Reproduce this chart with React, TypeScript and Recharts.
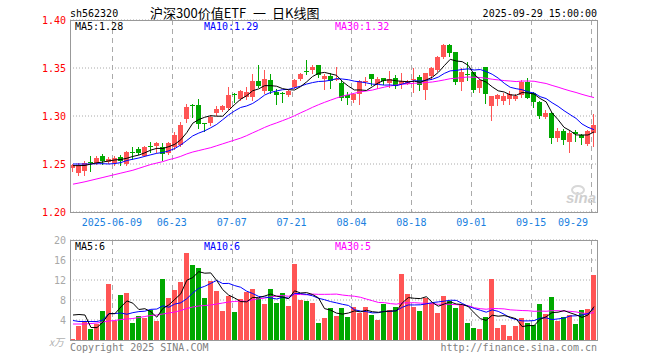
import React from "react";
import {
  ComposedChart,
  Bar,
  Line,
  XAxis,
  YAxis,
  CartesianGrid,
} from "recharts";

const dates = [
  "2025-05-28", "2025-05-29", "2025-05-30",
  "2025-06-03", "2025-06-04", "2025-06-05", "2025-06-06", "2025-06-09", "2025-06-10", "2025-06-11",
  "2025-06-12", "2025-06-13", "2025-06-16", "2025-06-17", "2025-06-18", "2025-06-19", "2025-06-20",
  "2025-06-23", "2025-06-24", "2025-06-25", "2025-06-26", "2025-06-27", "2025-06-30",
  "2025-07-01", "2025-07-02", "2025-07-03", "2025-07-04", "2025-07-07", "2025-07-08", "2025-07-09",
  "2025-07-10", "2025-07-11", "2025-07-14", "2025-07-15", "2025-07-16", "2025-07-17", "2025-07-18",
  "2025-07-21", "2025-07-22", "2025-07-23", "2025-07-24", "2025-07-25", "2025-07-28", "2025-07-29",
  "2025-07-30", "2025-07-31",
  "2025-08-01", "2025-08-04", "2025-08-05", "2025-08-06", "2025-08-07", "2025-08-08", "2025-08-11",
  "2025-08-12", "2025-08-13", "2025-08-14", "2025-08-15", "2025-08-18", "2025-08-19", "2025-08-20",
  "2025-08-21", "2025-08-22", "2025-08-25", "2025-08-26", "2025-08-27", "2025-08-28", "2025-08-29",
  "2025-09-01", "2025-09-02", "2025-09-03", "2025-09-04", "2025-09-05", "2025-09-08", "2025-09-09",
  "2025-09-10", "2025-09-11", "2025-09-12", "2025-09-15", "2025-09-16", "2025-09-17", "2025-09-18",
  "2025-09-19", "2025-09-22", "2025-09-23", "2025-09-24", "2025-09-25", "2025-09-26", "2025-09-29",
];

const opens = [
  1.2451, 1.2403, 1.243, 1.252, 1.251, 1.258, 1.252, 1.251, 1.2576, 1.251,
  1.263, 1.266, 1.259, 1.2685, 1.269, 1.268, 1.262, 1.267, 1.27, 1.297,
  1.311, 1.311, 1.293, 1.2925, 1.303, 1.306, 1.308, 1.323, 1.3185, 1.32,
  1.319, 1.3365, 1.327, 1.3375, 1.325, 1.3238, 1.322, 1.33, 1.339, 1.347,
  1.348, 1.353, 1.3385, 1.342, 1.338, 1.3347, 1.322, 1.316, 1.3226, 1.3355,
  1.3438, 1.334, 1.3393, 1.334, 1.3393, 1.333, 1.3335, 1.338, 1.3403, 1.327,
  1.341, 1.348, 1.3618, 1.374, 1.367, 1.3357, 1.3435, 1.3462, 1.3288, 1.3514,
  1.3107, 1.3177, 1.316, 1.318, 1.3174, 1.322, 1.3358, 1.3243, 1.315, 1.2993,
  1.3035, 1.2778, 1.2847, 1.2733, 1.2833, 1.2802, 1.2708, 1.283,
];

const highs = [
  1.25, 1.251, 1.253, 1.2583, 1.258, 1.2604, 1.2573, 1.258, 1.259, 1.264,
  1.268, 1.268, 1.269, 1.2733, 1.273, 1.2715, 1.273, 1.283, 1.294, 1.312,
  1.312, 1.318, 1.293, 1.301, 1.31, 1.311, 1.33, 1.324, 1.327, 1.33,
  1.344, 1.353, 1.348, 1.344, 1.328, 1.3253, 1.327, 1.339, 1.345, 1.358,
  1.3535, 1.3535, 1.344, 1.3445, 1.3515, 1.3375, 1.325, 1.324, 1.3375, 1.341,
  1.344, 1.341, 1.34, 1.347, 1.343, 1.345, 1.337, 1.3497, 1.3427, 1.345,
  1.351, 1.3625, 1.3745, 1.3745, 1.367, 1.3497, 1.3566, 1.3462, 1.339, 1.3514,
  1.3212, 1.323, 1.3243, 1.326, 1.323, 1.338, 1.3393, 1.3255, 1.316, 1.306,
  1.3045, 1.2872, 1.286, 1.2847, 1.2854, 1.281, 1.2858, 1.302,
];

const lows = [
  1.243, 1.239, 1.239, 1.243, 1.25, 1.25, 1.2507, 1.249, 1.249, 1.249,
  1.255, 1.26, 1.258, 1.263, 1.262, 1.2545, 1.26, 1.266, 1.269, 1.294,
  1.299, 1.288, 1.284, 1.291, 1.301, 1.305, 1.307, 1.315, 1.317, 1.318,
  1.317, 1.33, 1.324, 1.324, 1.313, 1.315, 1.321, 1.329, 1.337, 1.344,
  1.345, 1.341, 1.328, 1.3295, 1.337, 1.3167, 1.312, 1.315, 1.313, 1.3325,
  1.332, 1.329, 1.333, 1.33, 1.329, 1.329, 1.333, 1.325, 1.327, 1.3177,
  1.339, 1.347, 1.36, 1.363, 1.333, 1.327, 1.3375, 1.325, 1.325, 1.3132,
  1.296, 1.3115, 1.3125, 1.3125, 1.3165, 1.32, 1.3185, 1.3097, 1.2976, 1.2976,
  1.2722, 1.2743, 1.2708, 1.263, 1.2743, 1.2708, 1.27, 1.269,
];

const closes = [
  1.2486, 1.249, 1.251, 1.2512, 1.2566, 1.2524, 1.255, 1.256, 1.2535, 1.263,
  1.262, 1.262, 1.268, 1.2675, 1.272, 1.261, 1.272, 1.28, 1.291, 1.3095,
  1.31, 1.291, 1.292, 1.299, 1.307, 1.31, 1.322, 1.322, 1.3265, 1.325,
  1.336, 1.3316, 1.339, 1.3265, 1.322, 1.3234, 1.326, 1.3375, 1.344, 1.3465,
  1.3515, 1.343, 1.342, 1.3365, 1.339, 1.319, 1.3185, 1.3225, 1.3365, 1.3365,
  1.3385, 1.339, 1.3358, 1.3385, 1.3313, 1.336, 1.3365, 1.339, 1.3323, 1.3444,
  1.3497, 1.3618, 1.374, 1.3653, 1.3357, 1.3462, 1.3425, 1.327, 1.3375, 1.3236,
  1.3212, 1.3219, 1.3208, 1.323, 1.3208, 1.3358, 1.3195, 1.315, 1.3, 1.3035,
  1.2778, 1.2847, 1.275, 1.2826, 1.2813, 1.2774, 1.2847, 1.291,
];

// 成交量 (万)
const volumes = [
  0.3, 2.8, 3.7, 2.3, 3.3, 5.8, 11.2, 3.7, 9.0, 9.4,
  3.5, 4.9, 4.5, 6.0, 3.9, 12.2, 8.5, 10.0, 11.6, 17.4,
  15.0, 14.3, 8.5, 11.9, 9.8, 5.9, 8.8, 5.6, 8.3, 9.6,
  10.3, 8.5, 7.3, 10.2, 7.5, 9.4, 6.9, 15.2, 8.0, 7.9,
  7.5, 3.5, 4.5, 6.5, 4.9, 6.5, 4.6, 6.6, 5.5, 6.6,
  5.0, 4.0, 7.3, 6.1, 6.6, 13.2, 9.2, 6.6, 5.8, 8.5,
  7.5, 5.4, 8.8, 7.9, 6.4, 7.0, 3.4, 2.4, 2.2, 4.6,
  12.2, 2.4, 3.0, 0.8, 2.8, 4.4, 3.4, 3.0, 7.2, 5.2,
  8.6, 3.8, 4.6, 5.0, 3.2, 6.0, 6.2, 13.0,
];

// MA values at the start of the window (history before 05-28 is not shown)
const ma5Head = [1.2483, 1.2483, 1.2485, 1.25];
const ma10Head = [1.25, 1.25, 1.25, 1.25, 1.2503, 1.2503, 1.25, 1.2505, 1.2515];
const ma30Head = [
  1.229, 1.2302, 1.2315, 1.233, 1.2345, 1.236, 1.2375, 1.239, 1.2405, 1.242,
  1.2435, 1.2455, 1.2475, 1.2495, 1.251, 1.2525, 1.2545, 1.256, 1.258, 1.2605,
  1.2625, 1.264, 1.2655, 1.267, 1.269, 1.271, 1.273, 1.275, 1.277,
];
const volMa5Head = [5.0, 5.1, 5.0, 2.5];
const volMa10Head = [3.9, 3.7, 3.7, 3.7, 3.7, 4.0, 5.3, 5.3, 5.4];
const volMa30Head = [
  3.2, 3.2, 3.2, 3.3, 3.4, 3.6, 3.8, 3.9, 4.1, 4.2,
  4.3, 4.5, 4.7, 4.9, 5.0, 5.2, 5.4, 5.6, 5.9, 6.3,
  6.6, 6.8, 6.9, 7.0, 7.2, 7.4, 7.6, 7.7, 7.8,
];

const tickIdx = [7, 17, 27, 37, 47, 57, 67, 77, 87];
const priceTicks = [1.2, 1.25, 1.3, 1.35, 1.4];
const volTicks = [0, 4, 8, 12, 16, 20];

const RED = "#ff5555";
const GREEN = "#00a800";
const MONO = '"DejaVu Sans Mono", monospace';
const CJK = '"Noto Sans CJK SC", sans-serif';
const GRID = "#aaaaaa";

function movingAvg(src: number[], n: number, head: number[], i: number) {
  if (i < n - 1) return head[i];
  let s = 0;
  for (let k = i - n + 1; k <= i; k++) s += src[k];
  return s / n;
}

const rows = dates.map((d, i) => ({
  date: d,
  open: opens[i],
  high: highs[i],
  low: lows[i],
  close: closes[i],
  vol: volumes[i],
  up: closes[i] >= opens[i],
  ma5: movingAvg(closes, 5, ma5Head, i),
  ma10: movingAvg(closes, 10, ma10Head, i),
  ma30: movingAvg(closes, 30, ma30Head, i),
  vma5: movingAvg(volumes, 5, volMa5Head, i),
  vma10: movingAvg(volumes, 10, volMa10Head, i),
  vma30: movingAvg(volumes, 30, volMa30Head, i),
}));

const last = rows[rows.length - 1];
const tickDates = tickIdx.map((i) => dates[i]);

const PLOT_LEFT = 70;
const PLOT_W = 527;
const band = PLOT_W / dates.length;

const vGen = (props: any) => {
  const off = props && props.offset;
  const left = off && typeof off.left === "number" ? off.left : PLOT_LEFT;
  const w = off && typeof off.width === "number" ? off.width : PLOT_W;
  return tickIdx.map((i) => Math.round(left + (w * i) / dates.length) + 0.5);
};

const Candle = (props: any) => {
  const { x, y, width, height, payload } = props;
  if (!payload) return null;
  const { open, close, high, low, up } = payload;
  const color = up ? RED : GREEN;
  const top = Math.min(y, y + height);
  const h = Math.abs(height);
  const k = high - low > 0 ? h / (high - low) : 0;
  const yo = top + (high - open) * k;
  const yc = top + (high - close) * k;
  const bTop = Math.round(Math.min(yo, yc));
  const bH = Math.max(1, Math.round(Math.abs(yo - yc)));
  const rx = Math.round(x + width / 2 - 2.5);
  return (
    <g>
      <line x1={rx + 2.5} x2={rx + 2.5} y1={Math.round(top)} y2={Math.round(top + h) + 1} stroke={color} strokeWidth={1} />
      <rect x={rx} y={bTop} width={5} height={bH} fill={color} />
    </g>
  );
};

const VolBar = (props: any) => {
  const { x, y, width, height, payload } = props;
  if (!payload) return null;
  const rx = Math.round(x + width / 2 - 2.5);
  const top = Math.round(y);
  const bottom = Math.round(y + height);
  return <rect x={rx} y={top} width={5} height={Math.max(0, bottom - top)} fill={payload.up ? RED : GREEN} />;
};

const DateTick = (props: any) => {
  const { x, y, payload } = props;
  const i = dates.indexOf(payload.value);
  const label = i === tickIdx[0] ? payload.value : payload.value.slice(5);
  const isLast = i === dates.length - 1;
  return (
    <text
      x={isLast ? x - 6 : x - band / 2}
      y={y + 12}
      textAnchor={isLast ? "end" : "middle"}
      fill="#1a7fe0"
      fontSize={10}
      fontFamily={MONO}
    >
      {label}
    </text>
  );
};

const VolTick = (props: any) => {
  const { x, y, payload } = props;
  if (payload.value === 0) {
    return (
      <text x={x - 2} y={y + 6} textAnchor="end" fill="#b0b0b0" fontSize={10} fontStyle="italic" fontFamily={CJK}>
        x万
      </text>
    );
  }
  return (
    <text x={x} y={y} dy="0.355em" textAnchor="end" fill="#a8a8a8" fontSize={10} fontFamily={MONO}>
      {payload.value}
    </text>
  );
};

export default function App() {
  return (
    <div style={{ position: "absolute", left: 0, top: 0, width: 660, height: 360, background: "#fff" }}>
      <div style={{ position: "absolute", left: 0, top: 0 }}>
        <ComposedChart width={660} height={232} data={rows} margin={{ top: 20, right: 63, bottom: 0, left: 0 }}>
          <CartesianGrid vertical={false} stroke={GRID} strokeDasharray="1 2" />
          <CartesianGrid horizontal={false} stroke={GRID} strokeDasharray="5 4" verticalCoordinatesGenerator={vGen} />
          <XAxis
            dataKey="date"
            ticks={tickDates}
            interval={0}
            axisLine={false}
            tickLine={false}
            tickSize={0}
            height={20}
            tick={<DateTick />}
          />
          <YAxis
            domain={[1.2, 1.4]}
            ticks={priceTicks}
            interval={0}
            width={70}
            axisLine={false}
            tickLine={false}
            tickSize={0}
            tickMargin={4}
            tickFormatter={(v: number) => v.toFixed(2)}
            tick={{ fill: "#ff0000", fontSize: 10, fontFamily: MONO }}
          />
          <Bar dataKey={(d: any) => [d.low, d.high]} barSize={5} shape={<Candle />} isAnimationActive={false} />
          <Line dataKey="ma30" stroke="#ff00ff" strokeWidth={1} dot={false} isAnimationActive={false} />
          <Line dataKey="ma10" stroke="#0000ff" strokeWidth={1} dot={false} isAnimationActive={false} />
          <Line dataKey="ma5" stroke="#000000" strokeWidth={1} dot={false} isAnimationActive={false} />
        </ComposedChart>
      </div>
      <div style={{ position: "absolute", left: 0, top: 230 }}>
        <ComposedChart width={660} height={122} data={rows} margin={{ top: 10, right: 63, bottom: 12, left: 0 }}>
          <CartesianGrid vertical={false} stroke={GRID} strokeDasharray="1 2" />
          <CartesianGrid horizontal={false} stroke={GRID} strokeDasharray="5 4" verticalCoordinatesGenerator={vGen} />
          <XAxis dataKey="date" hide />
          <YAxis
            domain={[0, 20]}
            ticks={volTicks}
            interval={0}
            width={70}
            axisLine={false}
            tickLine={false}
            tickSize={0}
            tickMargin={4}
            tick={<VolTick />}
          />
          <Bar dataKey="vol" barSize={5} shape={<VolBar />} isAnimationActive={false} />
          <Line dataKey="vma30" stroke="#ff00ff" strokeWidth={1} dot={false} isAnimationActive={false} />
          <Line dataKey="vma10" stroke="#0000ff" strokeWidth={1} dot={false} isAnimationActive={false} />
          <Line dataKey="vma5" stroke="#000000" strokeWidth={1} dot={false} isAnimationActive={false} />
        </ComposedChart>
      </div>
      <div style={{ position: "absolute", left: 70, top: 20, width: 528, height: 193, border: "1px solid #999", boxSizing: "border-box", pointerEvents: "none" }} />
      <div style={{ position: "absolute", left: 70, top: 240, width: 528, height: 101, border: "1px solid #999", boxSizing: "border-box", pointerEvents: "none" }} />
      <svg width={660} height={360} style={{ position: "absolute", left: 0, top: 0, pointerEvents: "none" }}>
        <text x={70} y={17} fontSize={10} fontFamily={MONO} fill="#000">sh562320</text>
        <text x={150} y={18} fontSize={13} fontFamily={CJK} fill="#000">
          <tspan x={150}>沪深300价值ETF</tspan>
          <tspan x={253}>一</tspan>
          <tspan x={272}>日K线图</tspan>
        </text>
        <text x={597} y={17} fontSize={10} textAnchor="end" fontFamily={MONO} fill="#000">2025-09-29 15:00:00</text>
        <text x={75} y={30} fontSize={10} fontFamily={MONO} fill="#000">{`MA5:${last.ma5.toFixed(2)}`}</text>
        <text x={204} y={30} fontSize={10} fontFamily={MONO} fill="#0000ff">{`MA10:${last.ma10.toFixed(2)}`}</text>
        <text x={335} y={30} fontSize={10} fontFamily={MONO} fill="#ff00ff">{`MA30:${last.ma30.toFixed(2)}`}</text>
        <text x={75} y={250} fontSize={10} fontFamily={MONO} fill="#000">{`MA5:${Math.floor(last.vma5)}`}</text>
        <text x={204} y={250} fontSize={10} fontFamily={MONO} fill="#0000ff">{`MA10:${Math.floor(last.vma10)}`}</text>
        <text x={335} y={250} fontSize={10} fontFamily={MONO} fill="#ff00ff">{`MA30:${Math.floor(last.vma30)}`}</text>
        <text x={566} y={203} fontSize={15} fontWeight="bold" fontStyle="italic" fontFamily="sans-serif" fill="#cfcfcf">sina</text>
        <ellipse cx={578} cy={190} rx={6} ry={4} fill="none" stroke="#d8d8d8" strokeWidth={2} />
        <text x={70} y={351} fontSize={10} fontFamily={MONO} fill="#808080">Copyright 2025 SINA.COM</text>
        <text x={597} y={351} fontSize={10} textAnchor="end" fontFamily={MONO} fill="#808080">http://finance.sina.com.cn</text>
      </svg>
    </div>
  );
}
